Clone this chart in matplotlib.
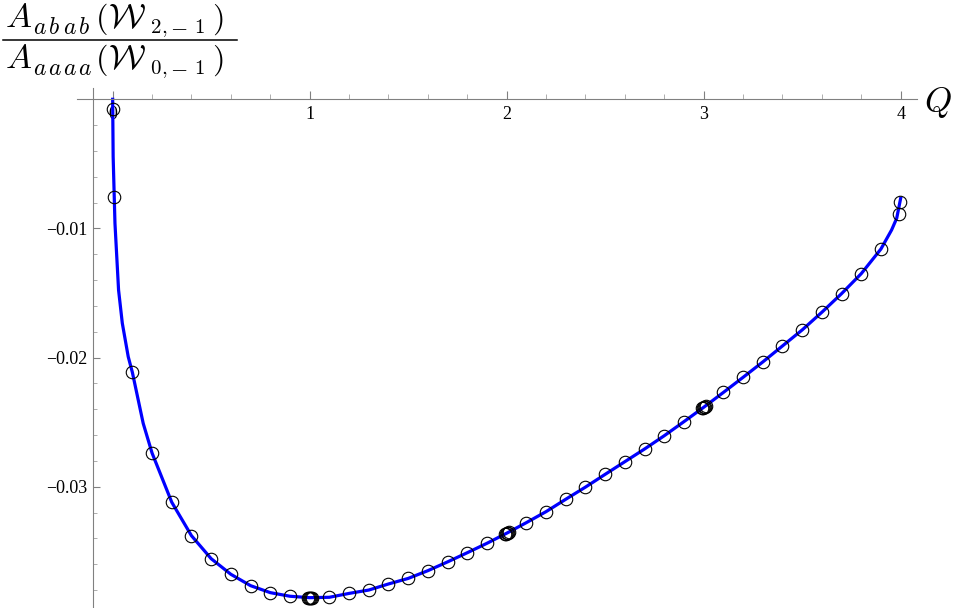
import matplotlib
matplotlib.use("Agg")
import matplotlib.pyplot as plt
from matplotlib.lines import Line2D
from matplotlib.ticker import FixedLocator, MultipleLocator

plt.rcParams['mathtext.fontset'] = 'cm'
plt.rcParams['font.family'] = ['Liberation Serif', 'DejaVu Serif']

# Continuous curve
q_curve = [0.0, 0.0025, 0.0117, 0.030, 0.049, 0.079, 0.1, 0.155, 0.2, 0.3, 0.4, 0.5,
           0.6, 0.7, 0.8, 0.9, 1.0, 1.1, 1.2, 1.3, 1.4, 1.5, 1.6, 1.7, 1.8, 1.9,
           2.0, 2.1, 2.2, 2.3, 2.4, 2.5, 2.6, 2.7, 2.8, 2.9, 3.0, 3.1, 3.2, 3.3,
           3.4, 3.5, 3.6, 3.7, 3.8, 3.9, 3.954, 3.98, 4.0]
v_curve = [0.0, -0.00444, -0.0096, -0.01477, -0.01734, -0.01993, -0.02114, -0.02509,
           -0.02739, -0.0312, -0.03379, -0.03557, -0.03678, -0.03766, -0.0382, -0.03848,
           -0.03859, -0.03856, -0.03826, -0.03800, -0.03753, -0.03710, -0.03650,
           -0.03582, -0.03511, -0.03438, -0.0336, -0.03278, -0.03193, -0.03097,
           -0.03003, -0.02904, -0.02806, -0.02708, -0.02605, -0.02496, -0.02385,
           -0.02270, -0.02153, -0.02034, -0.0191, -0.01786, -0.01649, -0.01505,
           -0.0135, -0.01159, -0.01012, -0.00921, -0.00767]

# Sample points (open circles)
q_pts = [0.0, 0.008, 0.1, 0.2, 0.3, 0.4, 0.5, 0.6, 0.7, 0.8, 0.9,
         0.99, 0.995, 1.0, 1.005, 1.01, 1.1, 1.2, 1.3, 1.4, 1.5, 1.6, 1.7, 1.8, 1.9,
         1.99, 1.995, 2.0, 2.005, 2.01, 2.1, 2.2, 2.3, 2.4, 2.5, 2.6, 2.7, 2.8, 2.9,
         2.99, 2.995, 3.0, 3.005, 3.01, 3.1, 3.2, 3.3, 3.4, 3.5, 3.6, 3.7, 3.8, 3.9,
         3.99, 3.999]
v_pts = [-0.00077, -0.00759, -0.02114, -0.02739, -0.0312, -0.03379, -0.03557,
         -0.03678, -0.03766, -0.0382, -0.03848,
         -0.03858, -0.03859, -0.03859, -0.03859, -0.03859, -0.03856, -0.03826, -0.03800,
         -0.03753, -0.03710, -0.03650, -0.03582, -0.03511, -0.03438,
         -0.03367, -0.03364, -0.0336, -0.03356, -0.03353, -0.03278, -0.03193, -0.03097,
         -0.03003, -0.02904, -0.02806, -0.02708, -0.02605, -0.02496,
         -0.02392, -0.02388, -0.02385, -0.02381, -0.02377, -0.02270, -0.02153, -0.02034,
         -0.0191, -0.01786, -0.01649, -0.01505, -0.0135, -0.01159,
         -0.00888, -0.00793]

x_ticks = [0, 1, 2, 3, 4]
x_tick_labels = ['0', '1', '2', '3', '4']
y_ticks = [-0.01, -0.02, -0.03]
y_tick_labels = ['\u22120.01', '\u22120.02', '\u22120.03']

# y-axis label: A_abab(W_{2,-1}) / A_aaaa(W_{0,-1})
num_sub = ['a', 'b', 'a', 'b']
den_sub = ['a', 'a', 'a', 'a']
num_w_sub = ['2', ',', '-', '1']
den_w_sub = ['0', ',', '-', '1']

W, H = 954, 608
fig = plt.figure(figsize=(W / 100, H / 100), dpi=100)
ax = fig.add_axes([77 / W, 0.0, (917 - 77) / W, (608 - 88) / H])

ax.plot(q_curve, v_curve, color='#0000ff', lw=2.3, zorder=2, clip_on=False)
ax.plot(q_pts, v_pts, ls='none', marker='o', ms=9, mfc='none', mec='black',
        mew=0.8, zorder=3, clip_on=False)

ax.set_xlim(-0.181, 4.083)
ax.set_ylim(-0.03939, 0.000875)

for s in ['top', 'right']:
    ax.spines[s].set_visible(False)
ax.spines['left'].set_position(('data', -0.1))
ax.spines['bottom'].set_position(('data', 0.0))
for s in ['left', 'bottom']:
    ax.spines[s].set_color('#808080')
    ax.spines[s].set_linewidth(0.8)

ax.xaxis.set_major_locator(FixedLocator(x_ticks))
ax.set_xticklabels(x_tick_labels)
ax.xaxis.set_minor_locator(MultipleLocator(0.2))
ax.yaxis.set_major_locator(FixedLocator(y_ticks))
ax.set_yticklabels(y_tick_labels)
ax.yaxis.set_minor_locator(MultipleLocator(0.002))

ax.tick_params(axis='x', which='major', direction='in', length=6, width=0.8,
               color='#808080', pad=5, labelsize=13)
ax.tick_params(axis='x', which='minor', direction='in', length=3.5, width=0.6,
               color='#a0a0a0')
ax.tick_params(axis='y', which='major', direction='in', length=5, width=0.8,
               color='#808080', pad=4, labelsize=13)
ax.tick_params(axis='y', which='minor', direction='in', length=3, width=0.6,
               color='#a0a0a0')
ax.set_facecolor('none')


def put(s, x, y, size):
    """Place mathtext s with left edge x and baseline y (pixels from top-left)."""
    fig.text(x / W, 1 - y / H, '$' + s + '$', ha='left', va='baseline',
             fontsize=size)


def row(subs, wsubs, base):
    put('A', 5, base, 25)
    for ch, x in zip(subs, [33, 48, 63, 78]):
        put(ch, x, base + 7, 17)
    put('(', 95, base, 23)
    put(r'\mathcal{W}', 108, base, 25)
    put(wsubs[0], 150, base + 6, 15)
    put(wsubs[1], 161, base + 6, 15)
    put(wsubs[2], 170, base + 6, 16)
    put(wsubs[3], 194, base + 6, 15)
    put(')', 212, base, 23)


row(num_sub, num_w_sub, 27)
row(den_sub, den_w_sub, 68)
fig.add_artist(Line2D([3 / W, 237 / W], [1 - 40 / H, 1 - 40 / H],
                      color='black', lw=1.1, transform=fig.transFigure))

fig.text(938 / W, 1 - 103 / H, r'$Q$', ha='center', va='center', fontsize=25)

fig.savefig('out.png', dpi=100)
